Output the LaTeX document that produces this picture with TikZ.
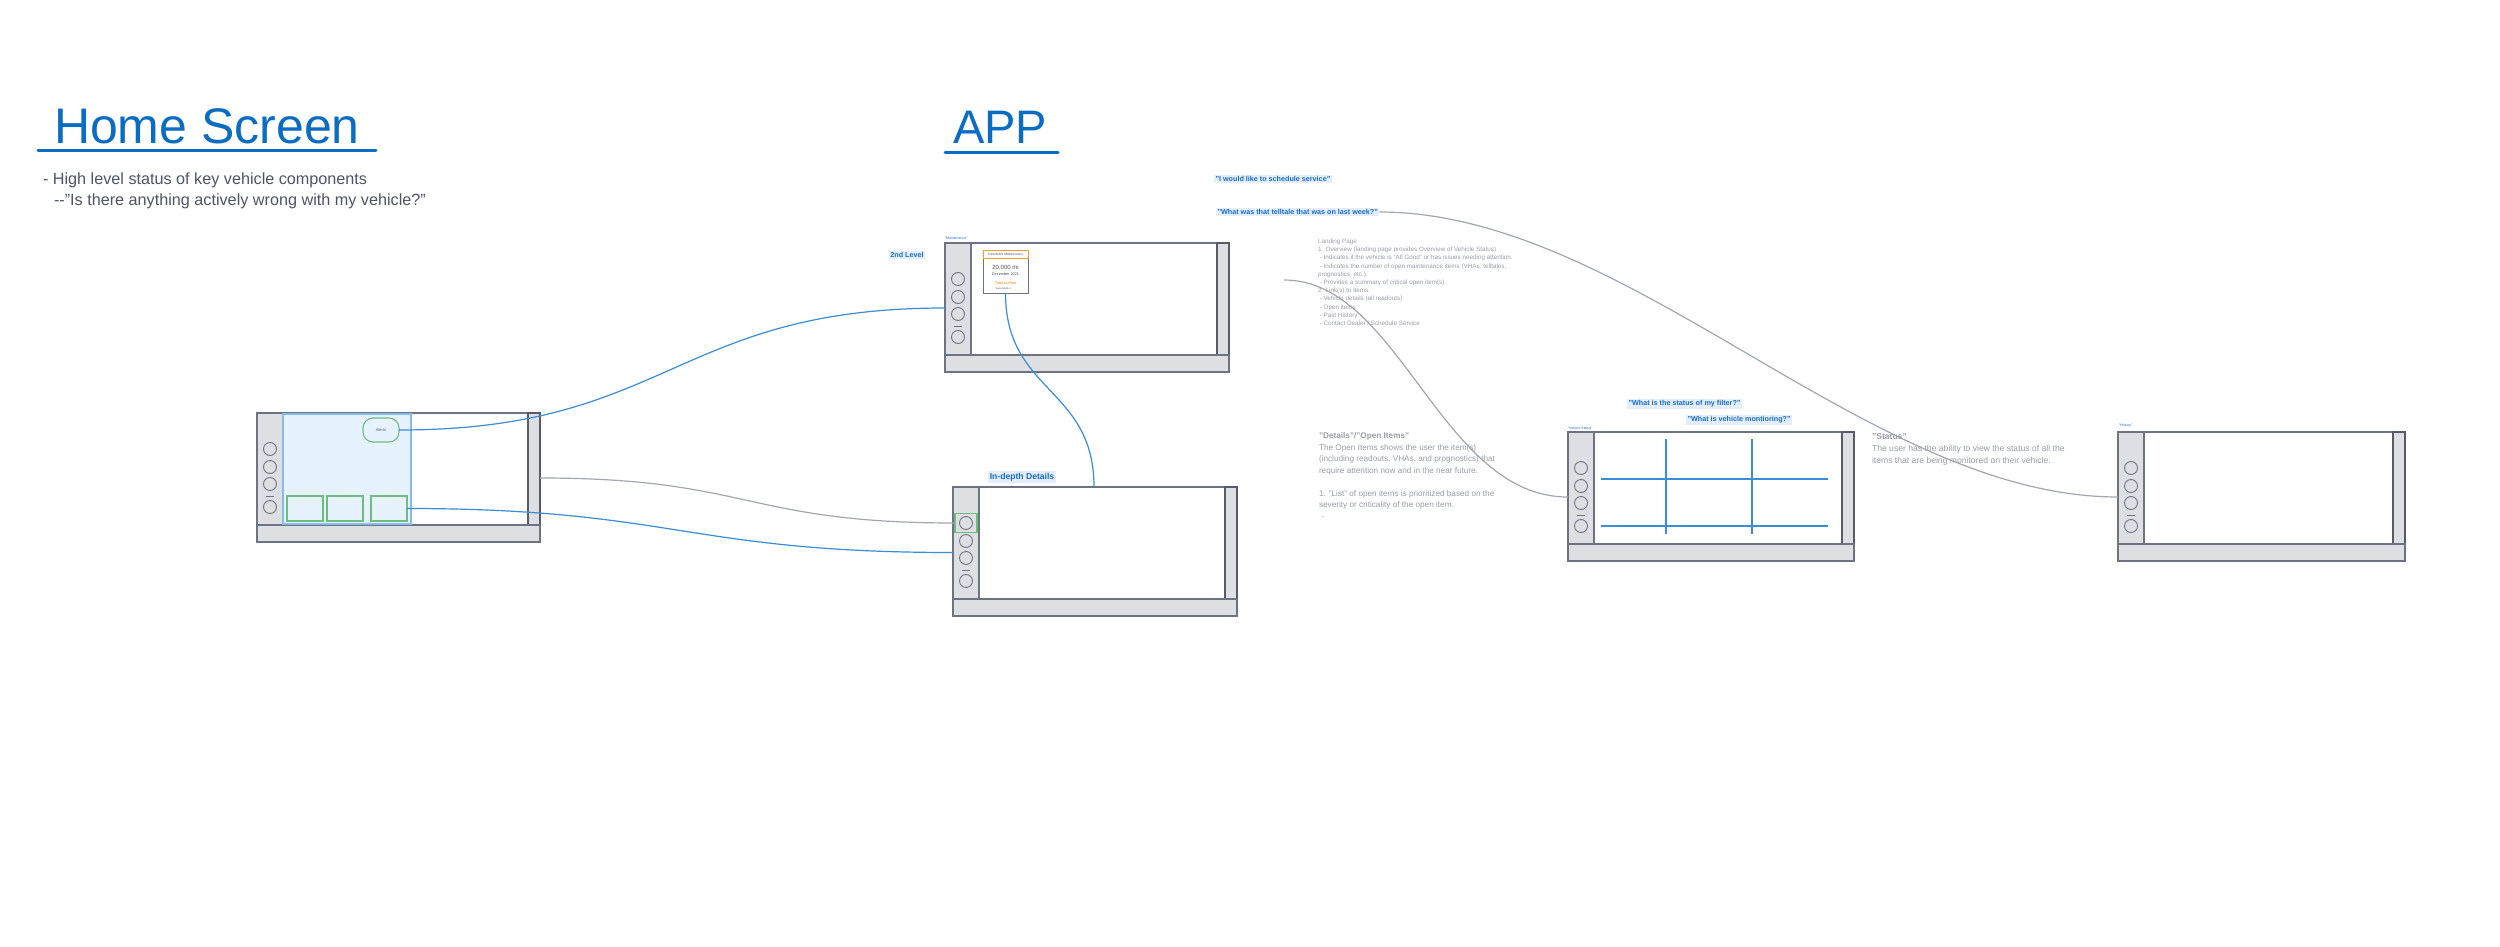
\documentclass[tikz,border=0pt]{standalone}
\usepackage{fontspec}
\setmainfont{Liberation Sans}
\usetikzlibrary{positioning, calc}
\definecolor{devfill}{HTML}{DEDFE3}
\definecolor{devline}{HTML}{6E7384}
\definecolor{devdark}{HTML}{565A6B}
\definecolor{wireblue}{HTML}{3A8DD8}
\definecolor{wiregray}{HTML}{A3A6B1}
\definecolor{titleblue}{HTML}{0B6CC4}
\definecolor{quoteblue}{HTML}{1A6DC4}
\definecolor{hlblue}{HTML}{E3EEFA}
\definecolor{notegray}{HTML}{9A9DA9}
\definecolor{bodygray}{HTML}{4E5367}
\definecolor{okgreen}{HTML}{6DBE7C}
\definecolor{panelblue}{HTML}{E6F2FD}
\definecolor{paneledge}{HTML}{84BCEE}
\definecolor{planorange}{HTML}{F0A02A}

% one car screen wireframe: name, left, top, width
\newcommand{\carscreen}[4]{%
  \node[sidebar, anchor=north west] (#1-side) at (#2,#3) {};
  \node[screen, anchor=north west, minimum width=#4-38] (#1-main) at (#1-side.north east) {};
  \node[sidebar, anchor=north west, minimum width=12, draw=devdark] (#1-right) at (#1-main.north east) {};
  \node[botbar, anchor=north west, minimum width=#4] (#1-bar) at (#1-side.south west) {};
  \foreach \k/\dy in {1/36, 2/54, 3/71, 4/94}
    \node[knob] (#1-c\k) at ($(#1-side.north)+(0,\dy)$) {};
  \draw[devline, line width=1pt] ($(#1-side.north)+(-4,83)$) -- ++(8,0);
}

\begin{document}
\begin{tikzpicture}[
    x=1pt, y=-1pt,
    every node/.style={inner sep=0pt, outer sep=0pt},
    sidebar/.style={rectangle, draw=devline, fill=devfill, line width=1.2pt, minimum width=26, minimum height=112},
    screen/.style={rectangle, draw=devline, fill=white, line width=1.2pt, minimum height=112},
    botbar/.style={rectangle, draw=devline, fill=devfill, line width=1.2pt, minimum height=17},
    knob/.style={circle, draw=devline, line width=0.9pt, minimum size=13},
    title/.style={font=\fontsize{50}{56}\selectfont, text=titleblue},
    titleline/.style={titleblue, line width=3pt, line cap=round},
    quote/.style={fill=hlblue, text=quoteblue, inner sep=1.5pt, font=\bfseries\fontsize{7.2}{8}\selectfont},
    tag/.style={text=quoteblue, font=\fontsize{3.5}{4}\selectfont},
    note/.style={text=notegray, align=left},
    bluewire/.style={wireblue, line width=1.2pt},
    graywire/.style={wiregray, line width=1.2pt},
    gridline/.style={wireblue, line width=1.5pt},
    okbox/.style={rectangle, draw=okgreen, line width=1.1pt},
  ]
  \fill[white] (0,0) rectangle (2500,947);
  \useasboundingbox (0,0) rectangle (2500,947);

  % headings
  \node[title, anchor=base west] (hs-title) at (54,143) {Home Screen};
  \draw[titleline] (38,151) -- (376,151);
  \node[text=bodygray, align=left, anchor=north west, font=\fontsize{16.2}{21}\selectfont] (hs-notes) at (43,173)
    {- High level status of key vehicle components\\
     \hspace*{11pt}-{}-"Is there anything actively wrong with my vehicle?"};
  \node[title, font=\fontsize{47}{52}\selectfont, anchor=base west] (app-title) at (953,144) {APP};
  \draw[titleline] (945,153) -- (1058,153);

  % home screen
  \carscreen{home}{257}{413}{283}
  \node[rectangle, draw=paneledge, fill=panelblue, line width=1.2pt, anchor=north west,
        minimum width=128, minimum height=110] (home-panel) at (283,414) {};
  \node[okbox, rounded corners=10pt, minimum width=36, minimum height=24, fill=panelblue,
        font=\fontsize{4}{5}\selectfont, text=bodygray] (alerts) at (381,430) {Alerts};
  \foreach \i/\bx in {1/287, 2/327, 3/371}
    \node[okbox, anchor=north west, minimum width=36, minimum height=25] (home-box\i) at (\bx,496) {};

  % second level
  \node[quote] (lvl2) at (907,255) {2nd Level};
  \carscreen{maint}{945}{243}{284}
  \node[tag, anchor=west] (maint-tag) at (945,238) {"Maintenance"};
  \node[rectangle, draw=devline, fill=white, line width=1pt, anchor=north west,
        minimum width=45, minimum height=43] (card) at (983,250) {};
  \draw[planorange, line width=0.8pt] (card.north west) rectangle ($(card.north east)+(0,8)$);
  \node[text=bodygray, font=\fontsize{3.3}{4}\selectfont] (card-head) at ($(card.north)+(0,4)$) {Scheduled Maintenance};
  \node[text=bodygray, font=\fontsize{6}{7}\selectfont] (card-miles) at ($(card.north)+(0,18)$) {20,000 mi};
  \node[text=bodygray, font=\fontsize{3.8}{4}\selectfont] (card-date) at ($(card.north)+(0,24)$) {December 2021};
  \node[text=planorange, font=\bfseries\fontsize{3.6}{4}\selectfont] (card-plan) at ($(card.north)+(0,33)$) {Time to Plan};
  \node[text=bodygray, font=\fontsize{2.5}{3}\selectfont] (card-more) at ($(card.north)+(-2,39)$) {View details \,\textbf{>}};

  % in-depth details
  \node[quote, font=\bfseries\fontsize{8.6}{10}\selectfont] (depth-tag) at (1022,477) {In-depth Details};
  \carscreen{depth}{953}{487}{284}
  \node[okbox, minimum width=22, minimum height=19] (depth-sel) at (depth-c1) {};

  % notes
  \node[quote, anchor=west] (q-service) at (1214,179) {"I would like to schedule service"};
  \node[quote, anchor=west] (q-telltale) at (1216,212) {"What was that telltale that was on last week?"};
  \node[note, anchor=north west, font=\fontsize{6.3}{8.2}\selectfont] (landing) at (1318,239)
    {Landing Page\\
     1. Overview (landing page provides Overview of Vehicle Status)\\
     \ - Indicates if the vehicle is "All Good" or has issues needing attention.\\
     \ - Indicates the number of open maintenance items (VHAs, telltales,\\
     prognostics, etc.).\\
     \ - Provides a summary of critical open item(s).\\
     2. Link(s) to items.\\
     \ - Vehicle details (all readouts)\\
     \ - Open items\\
     \ - Past History\\
     \ - Contact Dealer / Schedule Service};
  \coordinate (landing-in) at (1284,280);
  \node[note, anchor=north west, font=\fontsize{8.2}{11.5}\selectfont] (details) at (1319,433)
    {\textbf{"Details"/"Open Items"}\\
     The Open Items shows the user the item(s)\\
     (including readouts, VHAs, and prognostics) that\\
     require attention now and in the near future.\\[11.5pt]
     1. "List" of open items is prioritized based on the\\
     severity or criticality of the open item.\\
     \ -};

  % vehicle status
  \node[quote, anchor=west] (q-filter) at (1627,404) {"What is the status of my filter?"};
  \node[quote, anchor=west] (q-monitor) at (1686,420) {"What is vehicle montioring?"};
  \carscreen{vstat}{1568}{432}{286}
  \node[tag, anchor=west] (vstat-tag) at (1568,428) {"Vehicle Status"};
  \draw[gridline] (1601,479) -- (1828,479);
  \draw[gridline] (1601,526) -- (1828,526);
  \draw[gridline] (1666,439) -- (1666,534);
  \draw[gridline] (1752,439) -- (1752,534);

  \node[note, anchor=north west, font=\fontsize{8.6}{12}\selectfont] (status) at (1872,433)
    {\textbf{"Status"}\\
     The user has the ability to view the status of all the\\
     items that are being monitored on their vehicle.};

  % history
  \carscreen{hist}{2118}{432}{287}
  \node[tag, anchor=west] (hist-tag) at (2119,426) {"History"};

  % links
  \draw[bluewire] (alerts.east) .. controls +(270,0) and +(-270,0) .. ([yshift=-9pt]maint-side.west);
  \draw[bluewire] (card.south) .. controls +(0,100) and +(0,-100) .. ([xshift=-8pt]depth-main.north);
  \draw[graywire] ([yshift=-9pt]home-right.east) .. controls +(210,0) and +(-210,0) .. (depth-sel.west);
  \draw[bluewire] (home-box3.east) .. controls +(265,0) and +(-265,0) .. ([yshift=-9.5pt]depth-side.west);
  \draw[graywire] (landing-in) .. controls (1400,280) and (1440,497) .. ([yshift=-9pt]vstat-side.west);
  \draw[graywire] (q-telltale.east) .. controls +(250,0) and +(-250,0) .. ([yshift=-9pt]hist-side.west);
\end{tikzpicture}
\end{document}
